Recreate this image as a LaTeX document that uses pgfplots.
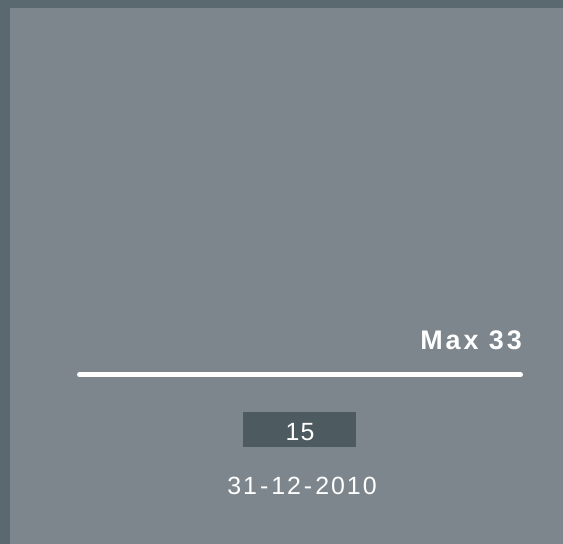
\documentclass[border=0pt]{standalone}
\usepackage{fontspec}
\setmainfont{Liberation Sans}
\newfontfamily\maxfont[LetterSpace=11]{Liberation Sans}
\newfontfamily\datefont[LetterSpace=8]{Liberation Sans}
\newfontfamily\valfont[LetterSpace=5]{Liberation Sans}
\usepackage{pgfplots}
\pgfplotsset{compat=1.18}
\definecolor{bordercol}{HTML}{5A6870}
\definecolor{bgcol}{HTML}{7C868C}
\definecolor{boxcol}{HTML}{4D5A60}
\begin{document}
\begin{tikzpicture}[x=1bp,y=1bp]
\fill[bordercol] (0,0) rectangle (563,544);
\fill[bgcol] (10,0) rectangle (563,536);
\begin{axis}[
  at={(79.5bp,0bp)}, anchor=south west,
  scale only axis, width=441bp, height=544bp,
  xmin=0, xmax=33, ymin=0, ymax=544,
  hide axis, clip=false,
]
% range line from 0 to max (33)
\addplot[white, line width=5bp, line cap=round] coordinates {(0,169.3) (33,169.3)};
\node[anchor=base east, inner sep=0pt, text=white, font=\maxfont\fontsize{27}{31}\selectfont\bfseries, xshift=1.5bp]
  at (axis cs:33,194.7) {Max 33};
\node[fill=boxcol, minimum width=113bp, minimum height=35bp, inner sep=0pt]
  at (axis cs:16.45,114.5) {};
\node[anchor=base, inner sep=0pt, text=white, font=\valfont\fontsize{25}{29}\selectfont]
  at (axis cs:16.5,103.8) {15};
\node[anchor=base, inner sep=0pt, text=white, font=\datefont\fontsize{25}{29}\selectfont]
  at (axis cs:16.65,49) {31\kern3bp-\kern3bp12\kern3bp-\kern3bp2010};
\end{axis}
\end{tikzpicture}
\end{document}
